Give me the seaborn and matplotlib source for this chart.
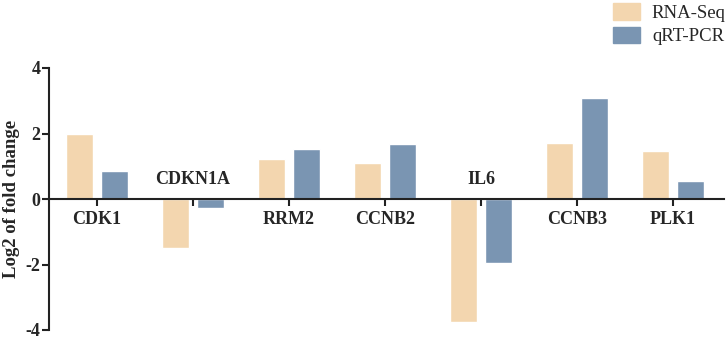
import matplotlib
matplotlib.use('Agg')
import matplotlib.pyplot as plt
import pandas as pd
import seaborn as sns

genes = ['CDK1', 'CDKN1A', 'RRM2', 'CCNB2', 'IL6', 'CCNB3', 'PLK1']
rna_seq = [2.0, -1.5, 1.22, 1.1, -3.75, 1.71, 1.47]
qrt_pcr = [0.85, -0.27, 1.53, 1.68, -1.95, 3.08, 0.55]
methods = ['RNA-Seq', 'qRT-PCR']
colors = ['#F3D6AF', '#7A95B2']

df = pd.DataFrame({
    'gene': genes * 2,
    'value': rna_seq + qrt_pcr,
    'method': [methods[0]] * len(genes) + [methods[1]] * len(genes),
})

sns.set_style('white')
plt.rcParams['font.family'] = ['Liberation Serif', 'DejaVu Serif']

fig = plt.figure(figsize=(7.28, 3.39), dpi=100)
ax = fig.add_axes([49 / 728, 9 / 339, (724 - 49) / 728, 262 / 339])

sns.barplot(data=df, x='gene', y='value', hue='method', order=genes,
            hue_order=methods, palette=colors, width=0.72, gap=0.22,
            saturation=1, ax=ax, legend=False)

ax.set_xlim(-0.5, 6.53)
ax.set_ylim(-4, 4)
ax.set_yticks([-4, -2, 0, 2, 4])
ax.set_yticklabels(['-4', '-2', '0', '2', '4'], fontsize=13, fontweight='bold')
ax.set_xticks(range(len(genes)))
ax.set_xticklabels([])
ax.set_xlabel('')
ax.set_ylabel('Log2 of fold change', fontsize=13.5, fontweight='bold', labelpad=4)

for side in ['top', 'right']:
    ax.spines[side].set_visible(False)
ax.spines['bottom'].set_position(('data', 0))
for side in ['left', 'bottom']:
    ax.spines[side].set_linewidth(1.5)
    ax.spines[side].set_color('#222222')
ax.tick_params(axis='both', bottom=True, left=True, direction='out',
               length=5, width=1.5, color='#222222')
ax.tick_params(axis='y', pad=1)

# gene names: above the axis for down-regulated genes, below otherwise
for i, g in enumerate(genes):
    below = rna_seq[i] > 0
    ax.annotate(g, xy=(i, 0), xytext=(0, -9 if below else 8),
                textcoords='offset points', ha='center',
                va='top' if below else 'bottom',
                fontsize=13, fontweight='bold')

handles = [plt.Rectangle((0, 0), 1, 1, color=c) for c in colors]
fig.legend(handles, methods, loc='upper right', bbox_to_anchor=(0.997, 0.99),
           frameon=False, fontsize=13.5, handlelength=1.45, handleheight=0.95,
           labelspacing=0.25, handletextpad=0.65, borderaxespad=0.0,
           borderpad=0.0)

fig.savefig('out.png', dpi=100)
